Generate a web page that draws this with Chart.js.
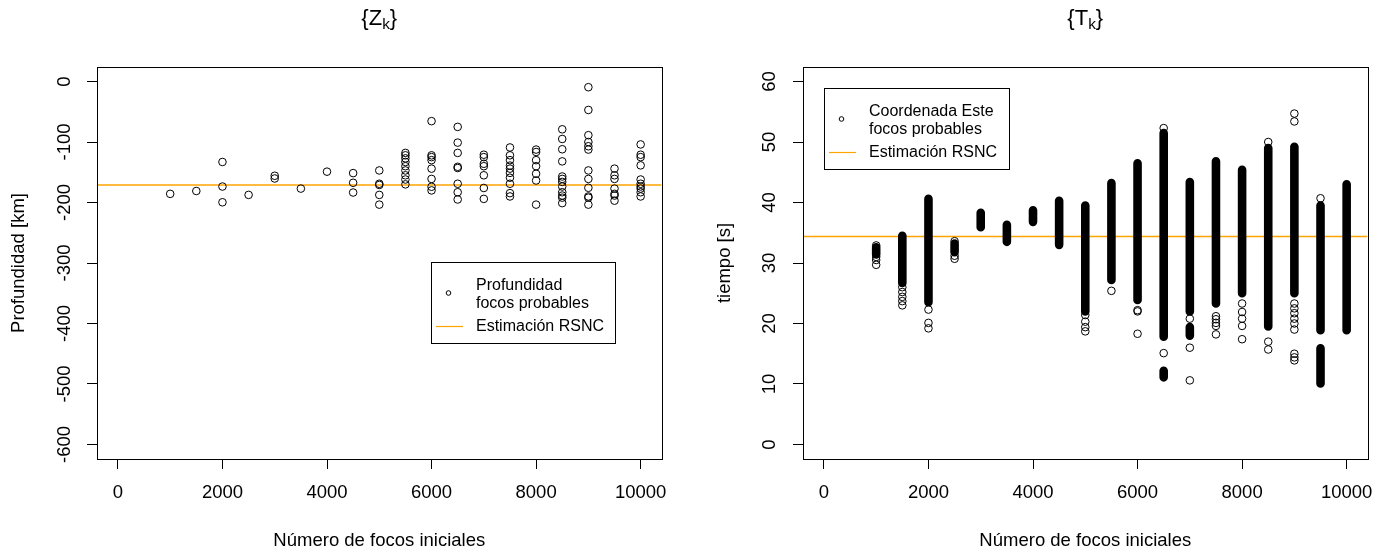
<!DOCTYPE html>
<html>
<head>
<meta charset="utf-8">
<script src="https://cdn.jsdelivr.net/npm/chart.js@4/dist/chart.umd.min.js"></script>
<style>
  html, body { margin: 0; padding: 0; background: #fff; }
  #wrap { position: relative; width: 1386px; height: 552px; overflow: hidden; background: #fff; }
  canvas { position: absolute; top: 0; }
</style>
</head>
<body>
<div id="wrap">
  <canvas id="cZ" width="680" height="552" style="left:0px"></canvas>
  <canvas id="cT" width="680" height="552" style="left:706px"></canvas>
</div>
<script>
// ---- tick values ----
const focosTicks = [0, 2000, 4000, 6000, 8000, 10000];
const profTicks = [-600, -500, -400, -300, -200, -100, 0];
const tiempoTicks = [0, 10, 20, 30, 40, 50, 60];

// ---- depth of probable foci vs number of initial foci ----
const profFocos = [
  1000,
  1500,
  2000, 2000, 2000,
  2500,
  3000, 3000,
  3500,
  4000,
  4500, 4500, 4500,
  5000, 5000, 5000, 5000, 5000,
  5500, 5500, 5500, 5500, 5500, 5500, 5500, 5500, 5500,
  6000, 6000, 6000, 6000, 6000, 6000, 6000, 6000,
  6500, 6500, 6500, 6500, 6500, 6500, 6500, 6500,
  7000, 7000, 7000, 7000, 7000, 7000, 7000,
  7500, 7500, 7500, 7500, 7500, 7500, 7500, 7500, 7500, 7500,
  8000, 8000, 8000, 8000, 8000, 8000, 8000,
  8500, 8500, 8500, 8500, 8500, 8500, 8500, 8500, 8500, 8500, 8500, 8500,
  9000, 9000, 9000, 9000, 9000, 9000, 9000, 9000, 9000, 9000, 9000, 9000,
  9500, 9500, 9500, 9500, 9500, 9500, 9500,
  10000, 10000, 10000, 10000, 10000, 10000, 10000, 10000, 10000, 10000
];
const profValores = [
  -185.7,
  -181,
  -133, -173.6, -199.6,
  -187.4,
  -155.8, -160.3,
  -177,
  -149,
  -151.4, -167.4, -183.5,
  -147, -169, -171, -187.4, -203.5,
  -118, -122, -127, -133, -140, -147, -155, -162, -170,
  -65.5, -122, -125, -130, -144, -161, -174, -180,
  -75, -101, -118, -141, -143, -169, -183, -195,
  -121, -125, -136, -140, -155, -176, -194,
  -109, -122, -130, -139, -144, -151, -159, -169, -184.5, -190,
  -112.5, -116.5, -130, -140, -152.5, -163.6, -203.5,
  -79, -95, -112, -132, -157, -161, -166, -173.6, -183, -188.5, -192, -201,
  -9.4, -47, -88.7, -100, -107, -112.5, -147, -161, -175.7, -190, -192, -203.5,
  -144, -155, -161, -177, -185.7, -188.5, -197,
  -104, -121, -125, -138.6, -162, -169, -173.6, -177, -183, -190
];
const estProf = -171;

// ---- time of probable foci: dense runs (min..max) and isolated points ----
const bandaFocos = [1000, 1500, 2000, 2500, 3000, 3500, 4000, 4500, 5000, 5500, 6000,
                    6500, 6500, 7000, 7000, 7500, 8000, 8500, 9000, 9500, 9500, 10000];
const bandaMin   = [31.4, 26.7, 23.5, 31.8, 35.9, 33.5, 36.8, 33.0, 22.0, 27.2, 23.9,
                    17.8, 11.1, 22.0, 18.0, 23.3, 25.0, 19.5, 25.0, 18.9, 10.1, 18.9];
const bandaMax   = [32.6, 34.5, 40.6, 33.2, 38.3, 36.3, 38.7, 40.3, 39.5, 43.2, 46.5,
                    51.5, 12.2, 43.4, 19.4, 46.8, 45.4, 49.0, 49.2, 39.5, 15.9, 43.0];

const puntoFocos = [
  1000, 1000, 1000, 1000,
  1500, 1500, 1500, 1500, 1500,
  2000, 2000, 2000,
  2500, 2500, 2500,
  5000, 5000, 5000, 5000,
  5500,
  6000, 6000, 6000,
  6500, 6500,
  7000, 7000, 7000,
  7500, 7500, 7500, 7500, 7500,
  8000, 8000, 8000, 8000, 8000,
  8500, 8500, 8500,
  9000, 9000, 9000, 9000, 9000, 9000, 9000, 9000, 9000, 9000, 9000,
  9500
];
const puntoTiempo = [
  32.9, 31.0, 30.5, 29.7,
  26.0, 25.2, 24.4, 23.7, 23.0,
  22.3, 20.1, 19.2,
  33.6, 31.2, 30.7,
  21.4, 20.3, 19.4, 18.7,
  25.4,
  22.0, 22.2, 18.3,
  52.3, 15.1,
  20.8, 16.0, 10.6,
  21.2, 20.7, 20.1, 19.6, 18.2,
  23.3, 21.9, 20.8, 19.6, 17.4,
  50.0, 17.0, 15.7,
  54.7, 53.4, 23.3, 22.5, 21.7, 20.8, 20.0, 19.0, 15.0, 14.4, 13.9,
  40.7
];
const estTiempo = 34.4;

// ---- shared look ----
const FONT = "'Liberation Sans', Arial, Helvetica, sans-serif";
const INK = '#000';
const ORANGE = '#FFA500';
const AREA = { left: 97, right: 663, top: 67, bottom: 459 };

function xAxis() {
  return {
    type: 'linear', min: -400, max: 10400,
    afterBuildTicks: s => { s.ticks = focosTicks.map(v => ({ value: v })); },
    afterFit: s => { s.height = 552 - AREA.bottom; },
    grid: { display: true, drawOnChartArea: false, drawTicks: true, tickLength: 10, color: INK, lineWidth: 1 },
    border: { display: false },
    ticks: { color: INK, font: { family: FONT, size: 18.5 }, padding: 13, maxRotation: 0, minRotation: 0,
             callback: v => String(v) },
    title: { display: true, text: 'Número de focos iniciales', color: INK,
             font: { family: FONT, size: 18.5 }, padding: { top: 0, bottom: 0 } }
  };
}
function yAxis(ticks, min, max, pad, label) {
  return {
    type: 'linear', min: min, max: max,
    afterBuildTicks: s => { s.ticks = ticks.map(v => ({ value: v })); },
    afterFit: s => { s.width = AREA.left; },
    grid: { display: true, drawOnChartArea: false, drawTicks: true, tickLength: 10, color: INK, lineWidth: 1 },
    border: { display: false },
    ticks: { color: INK, font: { family: FONT, size: 18.5 }, padding: pad, minRotation: 90, maxRotation: 90,
             crossAlign: 'center', callback: v => String(v) },
    title: { display: true, text: label, color: INK,
             font: { family: FONT, size: 18.5 }, padding: { top: 7.6, bottom: 0 } }
  };
}

// plot frame, title with subscript, and legend box
const framePlugin = {
  id: 'frame',
  afterDraw(chart, args, opts) {
    const ctx = chart.ctx, a = chart.chartArea;
    ctx.save();
    ctx.strokeStyle = INK; ctx.lineWidth = 1;
    ctx.strokeRect(Math.round(a.left) + 0.5, Math.round(a.top) + 0.5,
                   Math.round(a.right - a.left), Math.round(a.bottom - a.top));

    // title: {X_k}
    const cx = (a.left + a.right) / 2, ty = 19;
    const big = '22px ' + FONT, small = '15.4px ' + FONT;
    ctx.fillStyle = INK; ctx.textBaseline = 'middle'; ctx.textAlign = 'left';
    ctx.font = big; const w1 = ctx.measureText('{' + opts.letter).width, w3 = ctx.measureText('}').width;
    ctx.font = small; const w2 = ctx.measureText('k').width;
    let x0 = cx - (w1 + w2 + w3) / 2;
    ctx.font = big; ctx.fillText('{' + opts.letter, x0, ty);
    ctx.font = small; ctx.fillText('k', x0 + w1, ty + 6);
    ctx.font = big; ctx.fillText('}', x0 + w1 + w2, ty);

    // legend
    const L = opts.legend;
    ctx.strokeStyle = INK; ctx.lineWidth = 1;
    ctx.strokeRect(L.x + 0.5, L.y + 0.5, L.w, 81);
    ctx.beginPath(); ctx.arc(L.x + 17.5, L.y + 31, 2.3, 0, Math.PI * 2); ctx.stroke();
    ctx.strokeStyle = ORANGE; ctx.lineWidth = 1.2;
    ctx.beginPath(); ctx.moveTo(L.x + 5, L.y + 64.5); ctx.lineTo(L.x + 32, L.y + 64.5); ctx.stroke();
    ctx.fillStyle = INK; ctx.font = '16px ' + FONT; ctx.textBaseline = 'middle'; ctx.textAlign = 'left';
    ctx.fillText(L.lines[0], L.x + 45, L.y + 24);
    ctx.fillText(L.lines[1], L.x + 45, L.y + 42);
    ctx.fillText('Estimación RSNC', L.x + 45, L.y + 64.5);
    ctx.restore();
  }
};

const common = {
  responsive: false, animation: false, devicePixelRatio: 1,
  layout: { padding: { top: AREA.top, right: 680 - AREA.right, left: 0, bottom: 0 } },
  plugins: { legend: { display: false }, tooltip: { enabled: false }, title: { display: false } },
  elements: { point: { pointStyle: 'circle' } }
};

// ---- left: depth ----
new Chart(document.getElementById('cZ'), {
  type: 'scatter',
  data: {
    datasets: [
      { data: profFocos.map((x, i) => ({ x: x, y: profValores[i] })),
        pointRadius: 3.8, borderWidth: 1, borderColor: INK, backgroundColor: 'rgba(0,0,0,0)', showLine: false },
      { type: 'line', data: [{ x: -400, y: estProf }, { x: 10400, y: estProf }],
        borderColor: ORANGE, borderWidth: 1.5, pointRadius: 0 }
    ]
  },
  options: Object.assign({}, common, {
    scales: { x: xAxis(), y: yAxis(profTicks, -624, 24, 4, 'Profundidad [km]') },
    plugins: Object.assign({}, common.plugins, {
      frame: { letter: 'Z', legend: { x: 431, y: 262, w: 184, lines: ['Profundidad', 'focos probables'] } }
    })
  }),
  plugins: [framePlugin]
});

// ---- right: time ----
const bandData = [];
bandaFocos.forEach((x, i) => {
  bandData.push({ x: x, y: bandaMin[i] }, { x: x, y: bandaMax[i] }, { x: x, y: null });
});

new Chart(document.getElementById('cT'), {
  type: 'scatter',
  data: {
    datasets: [
      { type: 'line', data: bandData, borderColor: INK, borderWidth: 8.6, borderCapStyle: 'round',
        pointRadius: 0, spanGaps: false, tension: 0 },
      { data: puntoFocos.map((x, i) => ({ x: x, y: puntoTiempo[i] })),
        pointRadius: 3.8, borderWidth: 1, borderColor: INK, backgroundColor: 'rgba(0,0,0,0)', showLine: false },
      { type: 'line', data: [{ x: -400, y: estTiempo }, { x: 10400, y: estTiempo }],
        borderColor: ORANGE, borderWidth: 1.5, pointRadius: 0 }
    ]
  },
  options: Object.assign({}, common, {
    scales: { x: xAxis(), y: yAxis(tiempoTicks, -2.4, 62.4, 12.7, 'tiempo [s]') },
    plugins: Object.assign({}, common.plugins, {
      frame: { letter: 'T', legend: { x: 118, y: 88, w: 185, lines: ['Coordenada Este', 'focos probables'] } }
    })
  }),
  plugins: [framePlugin]
});
</script>
</body>
</html>
